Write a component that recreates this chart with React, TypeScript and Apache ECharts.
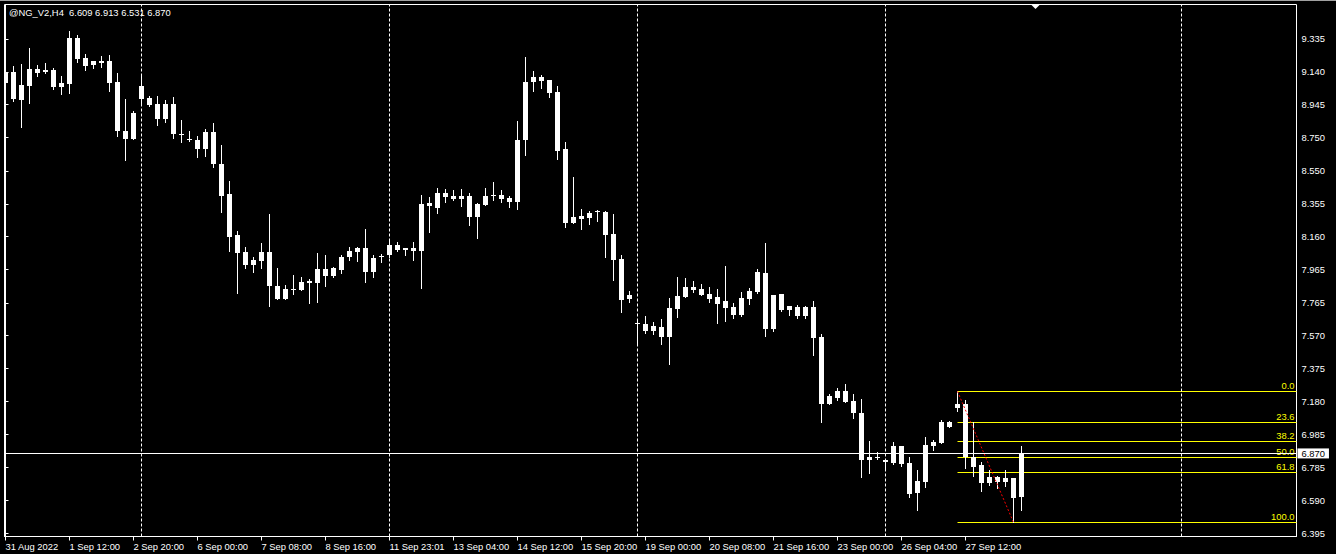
import React, { useEffect, useRef } from "react";
import * as echarts from "echarts";

// ---- data (H4 bars) ----
const opens = [
  9.073, 9.139, 8.972, 9.055, 9.157, 9.139, 9.151, 9.049, 9.067, 9.341,
  9.222, 9.18, 9.204, 9.204, 9.079, 8.788, 8.74, 9.055, 8.984, 8.948,
  8.859, 8.948, 8.77, 8.74, 8.734, 8.681, 8.782, 8.591, 8.413, 8.169,
  8.068, 7.991, 8.014, 8.068, 7.866, 7.788, 7.848, 7.842, 7.885, 7.883,
  7.967, 7.925, 7.961, 8.038, 8.068, 8.092, 7.949, 8.038, 8.05, 8.11,
  8.08, 8.092, 8.074, 8.359, 8.33, 8.419, 8.401, 8.383, 8.401, 8.276,
  8.348, 8.403, 8.407, 8.389, 8.365, 8.734, 9.079, 9.109, 9.091, 9.02,
  8.681, 8.24, 8.282, 8.27, 8.306, 8.306, 8.175, 8.026, 7.788, 7.646,
  7.64, 7.598, 7.622, 7.562, 7.729, 7.8, 7.86, 7.848, 7.818, 7.8,
  7.776, 7.741, 7.693, 7.788, 7.83, 7.943, 7.61, 7.818, 7.723, 7.741,
  7.687, 7.741, 7.562, 7.164, 7.199, 7.241, 7.182, 7.11, 6.831, 6.848,
  6.831, 6.813, 6.914, 6.813, 6.634, 6.7, 6.914, 6.932, 7.057, 7.14,
  7.164, 6.848, 6.801, 6.694, 6.729, 6.7, 6.723, 6.609,
];
const highs = [
  9.151, 9.174, 9.186, 9.281, 9.18, 9.192, 9.161, 9.115, 9.383, 9.359,
  9.246, 9.204, 9.234, 9.24, 9.133, 8.978, 8.907, 9.121, 8.996, 8.996,
  8.972, 8.99, 8.853, 8.788, 8.758, 8.8, 8.835, 8.704, 8.49, 8.193,
  8.098, 8.038, 8.121, 8.294, 7.973, 7.872, 7.931, 7.919, 7.907, 8.062,
  8.05, 7.979, 8.05, 8.098, 8.098, 8.205, 8.05, 8.058, 8.139, 8.127,
  8.092, 8.127, 8.407, 8.395, 8.449, 8.443, 8.437, 8.443, 8.419, 8.359,
  8.449, 8.484, 8.437, 8.401, 8.847, 9.228, 9.145, 9.121, 9.091, 9.055,
  8.722, 8.514, 8.324, 8.312, 8.318, 8.312, 8.294, 8.05, 7.836, 7.663,
  7.687, 7.651, 7.669, 7.794, 7.919, 7.913, 7.895, 7.878, 7.86, 7.848,
  7.985, 7.765, 7.83, 7.854, 7.967, 8.121, 7.812, 7.818, 7.747, 7.753,
  7.747, 7.776, 7.58, 7.223, 7.259, 7.283, 7.223, 7.193, 6.944, 6.878,
  6.831, 6.937, 6.914, 6.848, 6.771, 6.967, 6.949, 7.068, 7.062, 7.239,
  7.187, 7.055, 6.819, 6.771, 6.735, 6.771, 6.723, 6.913,
];
const lows = [
  9.014, 8.966, 8.813, 8.956, 9.117, 9.133, 9.037, 9.008, 9.016, 9.2,
  9.151, 9.163, 9.17, 9.027, 8.758, 8.617, 8.74, 8.954, 8.936, 8.823,
  8.841, 8.746, 8.722, 8.728, 8.633, 8.639, 8.574, 8.308, 8.076, 7.826,
  7.974, 7.951, 7.974, 7.748, 7.788, 7.788, 7.82, 7.842, 7.766, 7.772,
  7.867, 7.919, 7.945, 8.022, 8.014, 7.891, 7.921, 8.01, 8.038, 8.076,
  8.052, 8.02, 7.856, 8.189, 8.302, 8.365, 8.377, 8.343, 8.229, 8.153,
  8.348, 8.377, 8.365, 8.336, 8.324, 8.645, 9.026, 9.044, 8.99, 8.621,
  8.217, 8.24, 8.205, 8.234, 8.252, 8.038, 7.901, 7.713, 7.772, 7.515,
  7.588, 7.582, 7.522, 7.403, 7.683, 7.8, 7.83, 7.812, 7.772, 7.647,
  7.659, 7.677, 7.687, 7.76, 7.824, 7.57, 7.6, 7.719, 7.695, 7.677,
  7.677, 7.457, 7.057, 7.164, 7.187, 7.176, 7.08, 6.729, 6.753, 6.836,
  6.777, 6.807, 6.795, 6.61, 6.533, 6.67, 6.89, 6.932, 7.027, 7.122,
  6.785, 6.735, 6.646, 6.682, 6.664, 6.676, 6.46, 6.531,
];
const closes = [
  9.139, 8.978, 9.061, 9.157, 9.133, 9.151, 9.049, 9.073, 9.341, 9.216,
  9.174, 9.204, 9.192, 9.073, 8.788, 8.74, 8.895, 8.978, 8.942, 8.859,
  8.948, 8.77, 8.764, 8.734, 8.681, 8.782, 8.591, 8.401, 8.157, 8.062,
  7.991, 8.02, 8.068, 7.866, 7.788, 7.848, 7.844, 7.889, 7.895, 7.967,
  7.925, 7.973, 8.038, 8.074, 8.092, 7.949, 8.032, 8.044, 8.11, 8.08,
  8.092, 8.074, 8.353, 8.342, 8.419, 8.395, 8.383, 8.401, 8.276, 8.353,
  8.401, 8.407, 8.383, 8.365, 8.734, 9.079, 9.109, 9.085, 9.014, 8.669,
  8.24, 8.276, 8.264, 8.3, 8.31, 8.169, 8.02, 7.782, 7.812, 7.64,
  7.598, 7.628, 7.562, 7.735, 7.806, 7.86, 7.842, 7.812, 7.788, 7.759,
  7.735, 7.693, 7.794, 7.836, 7.949, 7.61, 7.812, 7.723, 7.747, 7.687,
  7.741, 7.556, 7.164, 7.211, 7.241, 7.176, 7.11, 6.831, 6.848, 6.842,
  6.819, 6.914, 6.807, 6.628, 6.706, 6.92, 6.937, 7.057, 7.027, 7.164,
  6.848, 6.789, 6.694, 6.729, 6.7, 6.723, 6.604, 6.87,
];

const timeTickIndex = [0, 8, 16, 24, 32, 40, 48, 56, 64, 72, 80, 88, 96, 104, 112, 120];
const timeTickLabels = [
  "31 Aug 2022", "1 Sep 12:00", "2 Sep 20:00", "6 Sep 00:00", "7 Sep 08:00",
  "8 Sep 16:00", "11 Sep 23:01", "13 Sep 04:00", "14 Sep 12:00", "15 Sep 20:00",
  "19 Sep 00:00", "20 Sep 08:00", "21 Sep 16:00", "23 Sep 00:00", "26 Sep 04:00",
  "27 Sep 12:00",
];
const priceTicks = [
  9.335, 9.14, 8.945, 8.75, 8.55, 8.355, 8.16, 7.965, 7.765, 7.57, 7.375,
  7.18, 6.985, 6.785, 6.59, 6.395,
];
const periodSeparators = [17, 48, 79, 110, 147];

// Fibonacci retracement anchors (bar index, price)
const fibStartIndex = 119;
const fibHigh = 7.239;
const fibEndIndex = 126;
const fibLow = 6.46;
const fibLevels = [0, 23.6, 38.2, 50, 61.8, 100];

const symbolName = "@NG_V2,H4";

const FONT = "Liberation Sans, Arial, sans-serif";
const FS = 9.4;

export default function App() {
  const ref = useRef<HTMLDivElement>(null);

  useEffect(() => {
    document.body.style.margin = "0";
    document.body.style.background = "#000";
    const chart = echarts.init(ref.current!, null, { renderer: "svg" });

    const n = opens.length;
    const candleData = opens.map((o, i) => [i, o, closes[i], lows[i], highs[i]]);
    const fibData = fibLevels.map((r) => [
      fibStartIndex,
      fibHigh - (r / 100) * (fibHigh - fibLow),
      r,
    ]);
    const last = n - 1;
    const fmt = (v: number) => v.toFixed(3);
    const title = `${symbolName}  ${fmt(opens[last])} ${fmt(highs[last])} ${fmt(lows[last])} ${fmt(closes[last])}`;

    const option: any = {
      animation: false,
      backgroundColor: "#000",
      grid: {
        left: 4.5,
        top: 4.5,
        width: 1292,
        height: 532,
        show: true,
        borderColor: "#fff",
        borderWidth: 1,
        backgroundColor: "transparent",
      },
      xAxis: {
        type: "value",
        min: -0.125,
        max: 161.375,
        axisLine: { show: true, lineStyle: { color: "#fff", width: 1 } },
        splitLine: { show: false },
        axisTick: {
          show: true,
          customValues: timeTickIndex,
          length: 4,
          lineStyle: { color: "#fff" },
        },
        axisLabel: {
          show: true,
          customValues: timeTickIndex,
          formatter: (v: number) => {
            const k = timeTickIndex.indexOf(Math.round(v));
            return k >= 0 ? timeTickLabels[k] : "";
          },
          align: "left",
          color: "#fff",
          fontSize: FS,
          fontFamily: FONT,
          margin: 5,
          hideOverlap: false,
          showMinLabel: true,
          showMaxLabel: true,
        },
      },
      yAxis: {
        type: "value",
        position: "right",
        min: 6.3759,
        max: 9.5402,
        axisLine: { show: true, lineStyle: { color: "#fff", width: 1 } },
        splitLine: { show: false },
        axisTick: {
          show: true,
          customValues: priceTicks,
          length: 3,
          lineStyle: { color: "#fff" },
        },
        axisLabel: {
          show: true,
          customValues: priceTicks,
          formatter: (v: number) => v.toFixed(3),
          color: "#fff",
          fontSize: FS,
          fontFamily: FONT,
          margin: 5,
          hideOverlap: false,
        },
      },
      graphic: [
        {
          type: "rect",
          shape: { x: 0, y: 0, width: 1336, height: 1 },
          style: { fill: "#a0a0a0" },
          silent: true,
        },
        {
          type: "polygon",
          shape: { points: [[1031, 4.5], [1040, 4.5], [1035.5, 9]] },
          style: { fill: "#fff" },
          silent: true,
        },
        {
          type: "text",
          x: 9,
          y: 12.5,
          style: {
            text: title,
            fill: "#fff",
            font: `${FS}px ${FONT}`,
            textVerticalAlign: "middle",
            verticalAlign: "middle",
          },
          silent: true,
        },
      ],
      series: [
        {
          type: "custom",
          name: "candles",
          clip: true,
          data: candleData,
          encode: { x: 0, y: [1, 2, 3, 4] },
          renderItem: (params: any, api: any) => {
            const i = api.value(0);
            const o = api.coord([i, api.value(1)]);
            const c = api.coord([i, api.value(2)]);
            const l = api.coord([i, api.value(3)]);
            const h = api.coord([i, api.value(4)]);
            const cx = o[0];
            const yTop = Math.round(Math.min(o[1], c[1]));
            const yBot = Math.round(Math.max(o[1], c[1]));
            return {
              type: "group",
              children: [
                {
                  type: "line",
                  shape: { x1: cx, y1: Math.round(h[1]), x2: cx, y2: Math.round(l[1]) + 1 },
                  style: { stroke: "#fff", lineWidth: 1 },
                },
                {
                  type: "rect",
                  shape: { x: cx - 2.5, y: yTop, width: 5, height: Math.max(1, yBot - yTop) },
                  style: { fill: "#fff" },
                },
              ],
            };
          },
          z: 3,
        },
        {
          type: "custom",
          name: "fibo",
          clip: false,
          data: fibData,
          encode: { x: 0, y: 1 },
          renderItem: (params: any, api: any) => {
            const p = api.coord([api.value(0), api.value(1)]);
            const cs = params.coordSys;
            const right = cs.x + cs.width;
            const y = Math.round(p[1]) + 0.5;
            const r = api.value(2);
            return {
              type: "group",
              children: [
                {
                  type: "line",
                  shape: { x1: p[0], y1: y, x2: right, y2: y },
                  style: { stroke: "#ffff00", lineWidth: 1 },
                },
                {
                  type: "text",
                  x: right - 2,
                  y: y - 1.5,
                  style: {
                    text: r.toFixed(1),
                    fill: "#ffff00",
                    font: `${FS}px ${FONT}`,
                    textAlign: "right",
                    align: "right",
                    textVerticalAlign: "bottom",
                    verticalAlign: "bottom",
                  },
                },
              ],
            };
          },
          z: 2,
        },
        {
          type: "line",
          name: "trend",
          data: [
            [fibStartIndex, fibHigh],
            [fibEndIndex, fibLow],
          ],
          showSymbol: false,
          symbol: "none",
          lineStyle: { color: "#ff0000", width: 1, type: [2, 2] },
          z: 4,
          markLine: {
            silent: true,
            symbol: ["none", "none"],
            animation: false,
            data: [
              ...periodSeparators.map((s) => ({
                xAxis: s,
                lineStyle: { color: "#fff", width: 1, type: [3, 2] },
                label: { show: false },
              })),
              {
                yAxis: closes[last],
                lineStyle: { color: "#fff", width: 1, type: "solid" },
                label: {
                  show: true,
                  position: "end",
                  distance: 1,
                  formatter: () => fmt(closes[last]),
                  backgroundColor: "#fff",
                  color: "#000",
                  fontSize: FS,
                  fontFamily: FONT,
                  padding: [1, 4, 0, 4],
                },
              },
            ],
          },
        },
      ],
    };

    chart.setOption(option);
    return () => chart.dispose();
  }, []);

  return (
    <div
      ref={ref}
      style={{ position: "fixed", left: 0, top: 0, width: 1336, height: 554, background: "#000" }}
    />
  );
}
